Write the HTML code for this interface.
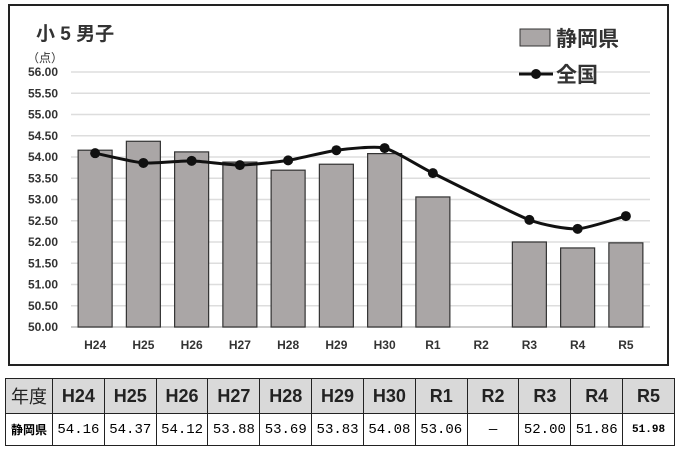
<!DOCTYPE html>
<html><head><meta charset="utf-8"><style>
body{margin:0;width:680px;height:450px;background:#fff;font-family:"Liberation Sans","Noto Sans CJK JP",sans-serif;position:relative;overflow:hidden}
svg{position:absolute;left:0;top:0}
table{position:absolute;left:5px;top:378px;border-collapse:collapse;width:670px;table-layout:fixed}
td{border:1px solid #222;text-align:center;padding:0;font-family:"Liberation Mono","Noto Sans CJK JP",monospace;font-size:14px;overflow:hidden;white-space:nowrap}
tr.h td{height:34px;background:#d9d9d9;font-family:"Liberation Sans","Noto Sans CJK JP",sans-serif;font-size:18px;font-weight:bold;color:#222}
tr.d td{height:31px}
</style></head><body>
<svg width="680" height="375" id="chart">
<rect x="9" y="5" width="659" height="360" fill="#fff" stroke="#222" stroke-width="2"/>
<text x="36" y="40" font-size="19" font-weight="bold" fill="#333" font-family="Liberation Sans,Noto Sans CJK JP,sans-serif">小 5 男子</text>
<text x="27" y="62" font-size="12" fill="#333" font-family="Liberation Sans,Noto Sans CJK JP,sans-serif">（点）</text>
<g id="grid"></g><g id="bars"></g><g id="line"></g><g id="xl"></g>
<rect x="520" y="29" width="30" height="17" fill="#aaa6a6" stroke="#333"/>
<text x="556" y="46" font-size="21" font-weight="bold" fill="#333" font-family="Liberation Sans,Noto Sans CJK JP,sans-serif">静岡県</text>
<line x1="519" y1="74" x2="553" y2="74" stroke="#111" stroke-width="3"/>
<circle cx="536" cy="74" r="5" fill="#111"/>
<text x="556" y="82" font-size="21" font-weight="bold" fill="#333" font-family="Liberation Sans,Noto Sans CJK JP,sans-serif">全国</text>
</svg>
<table>
<tr class="h" id="hr"><td style="width:46px;font-weight:normal">年度</td></tr>
<tr class="d" id="dr"><td style="font-size:12px;font-family:'Liberation Sans','Noto Sans CJK JP',sans-serif;font-weight:bold">静岡県</td></tr>
</table>
<script>
const categories=["H24","H25","H26","H27","H28","H29","H30","R1","R2","R3","R4","R5"];
const prefValues=[54.16,54.37,54.12,53.88,53.69,53.83,54.08,53.06,null,52.00,51.86,51.98];
const nationalValues=[54.09,53.86,53.91,53.81,53.92,54.16,54.21,53.62,null,52.52,52.31,52.61];
const yTicks=[50,50.5,51,51.5,52,52.5,53,53.5,54,54.5,55,55.5,56];
const NS="http://www.w3.org/2000/svg";
const L=71,R=650,T=72,B=327,ymin=50,ymax=56;
const bw=(R-L)/categories.length;
const x=i=>L+bw*(i+0.5);
const y=v=>B-(v-ymin)/(ymax-ymin)*(B-T);
function mk(t,a,p){const e=document.createElementNS(NS,t);for(const k in a)e.setAttribute(k,a[k]);p.appendChild(e);return e;}
const g=document.getElementById('grid');
yTicks.forEach(v=>{
 const ln=mk('line',{x1:L,x2:R,y1:y(v),y2:y(v),stroke:v===ymin?'#bbb':'#ddd','stroke-width':1.5},g);
 
 
 const t=mk('text',{x:58,y:y(v)+4,'text-anchor':'end','font-size':12,'font-weight':'bold',fill:'#333'},g);
 t.textContent=v.toFixed(2);
 
 
});
const bg=document.getElementById('bars');
prefValues.forEach((v,i)=>{
 if(v==null)return;
 const r=mk('rect',{x:x(i)-17,y:y(v),width:34,height:B-y(v),fill:'#aaa6a6',stroke:'#333','stroke-width':1.2},bg);
 
 
});
const xl=document.getElementById('xl');
categories.forEach((c,i)=>{
 const t=mk('text',{x:x(i),y:349,'text-anchor':'middle','font-size':12,'font-weight':'bold',fill:'#333'},xl);
 t.textContent=c;
 
 
});
const pts=[];nationalValues.forEach((v,i)=>{if(v!=null)pts.push([x(i),y(v)]);});
let d='M'+pts[0][0]+','+pts[0][1];
for(let i=0;i<pts.length-1;i++){
 const p0=pts[i-1]||pts[i],p1=pts[i],p2=pts[i+1],p3=pts[i+2]||p2,k=0.3/3;
 d+=` C${p1[0]+(p2[0]-p0[0])*k},${p1[1]+(p2[1]-p0[1])*k} ${p2[0]-(p3[0]-p1[0])*k},${p2[1]-(p3[1]-p1[1])*k} ${p2[0]},${p2[1]}`;
}
const lg=document.getElementById('line');
const path=mk('path',{d:d,fill:'none',stroke:'#111','stroke-width':3},lg);


nationalValues.forEach((v,i)=>{
 if(v==null)return;
 const c=mk('circle',{cx:x(i),cy:y(v),r:5,fill:'#111'},lg);
 
 
});
const hr=document.getElementById('hr'),dr=document.getElementById('dr');
categories.forEach((c,i)=>{
 const h=document.createElement('td');h.textContent=c;
 
 
 hr.appendChild(h);
 const dd=document.createElement('td');const v=prefValues[i];
 dd.textContent=v==null?'—':v.toFixed(2);
 if(i===categories.length-1){dd.style.fontWeight='bold';dd.style.fontSize='11px';}
 
 
 dr.appendChild(dd);
});
</script>
</body></html>
